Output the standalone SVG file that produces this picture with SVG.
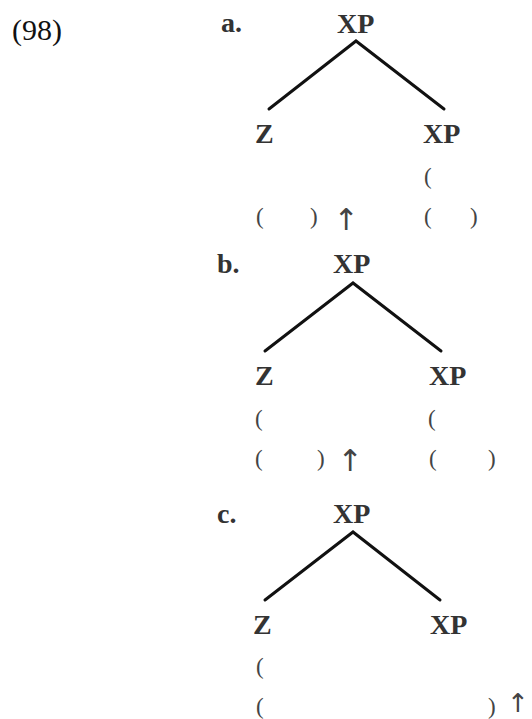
<svg xmlns="http://www.w3.org/2000/svg" width="532" height="719" viewBox="0 0 532 719" font-family="Liberation Serif, DejaVu Serif, serif">
<style>
.t{font-family:'Liberation Serif','DejaVu Serif',serif;font-size:28px;font-weight:bold;fill:#333}
.n{font-family:'Liberation Serif','DejaVu Serif',serif;font-size:30px;fill:#111}
.p{font-family:'Liberation Serif','DejaVu Serif',serif;font-size:23px;fill:#444}
.ar{font-family:'DejaVu Sans',sans-serif;font-size:30px;fill:#444}
.e{stroke:#111;stroke-width:3;fill:none;stroke-linecap:round}
</style>
<rect width="532" height="719" fill="#fff"/>
<text id="num" class="n" x="12" y="40">(98)</text>
<g id="connectors">
<polyline class="e" points="269,109 356,41 444,109"/>
<polyline class="e" points="265,351 353,283 441,351"/>
<polyline class="e" points="265,600 353,532 440,600"/>
</g>
<g id="a">
<text class="t" x="221" y="32">a.</text>
<g id="a-root"><text class="t" x="337" y="33">XP</text></g>
<g id="a-z"><text class="t" x="255" y="143">Z</text>
<text class="p" x="256" y="224">(</text><text class="p" x="310" y="224">)</text><text class="ar" x="333.5" y="230">↑</text></g>
<g id="a-xp"><text class="t" x="423" y="143">XP</text>
<text class="p" x="424" y="184">(</text>
<text class="p" x="424" y="224">(</text><text class="p" x="470" y="224">)</text></g>
</g>
<g id="b">
<text class="t" x="217" y="273">b.</text>
<g id="b-root"><text class="t" x="333" y="273">XP</text></g>
<g id="b-z"><text class="t" x="255" y="385">Z</text>
<text class="p" x="255" y="426">(</text>
<text class="p" x="255" y="466">(</text><text class="p" x="317" y="466">)</text><text class="ar" x="337.5" y="471">↑</text></g>
<g id="b-xp"><text class="t" x="429" y="385">XP</text>
<text class="p" x="428" y="426">(</text>
<text class="p" x="429" y="466">(</text><text class="p" x="488" y="466">)</text></g>
</g>
<g id="c">
<text class="t" x="217" y="523">c.</text>
<g id="c-root"><text class="t" x="333" y="523">XP</text></g>
<g id="c-z"><text class="t" x="253" y="634">Z</text>
<text class="p" x="256" y="674">(</text>
<text class="p" x="256" y="714">(</text><text class="p" x="488" y="714">)</text><text class="ar" x="507" y="712" style="font-size:26px">↑</text></g>
<g id="c-xp"><text class="t" x="430" y="634">XP</text></g>
</g>
</svg>
